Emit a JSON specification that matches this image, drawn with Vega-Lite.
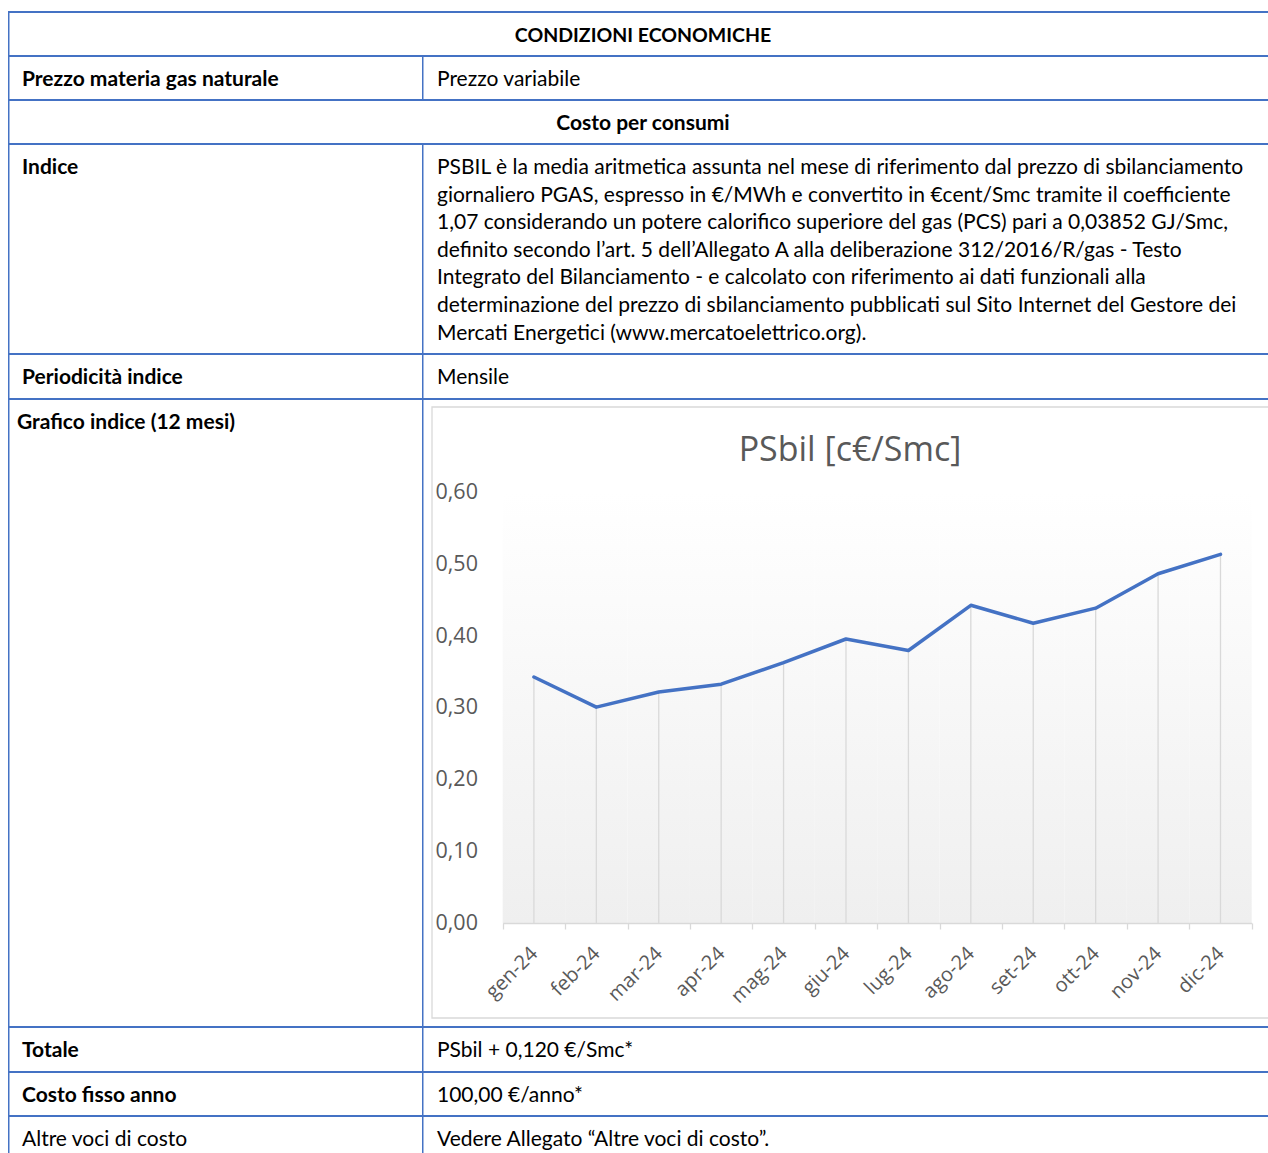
{
  "$schema": "https://vega.github.io/schema/vega-lite/v6.json",
  "padding": {"left": 8, "top": 11, "right": 0, "bottom": 0},
  "background": "white",
  "config": {
    "view": {"stroke": null},
    "concat": {"spacing": 0}
  },
  "spacing": 0,
  "bounds": "flush",
  "vconcat": [
    {
      "width": 1260, "height": 44,
      "data": {"values": [{"l": "CONDIZIONI ECONOMICHE"}]},
      "layer": [
        {"mark": {"type": "rect", "x": 0, "x2": 1260, "y": -1, "y2": 1, "fill": "#4472c4"}, "encoding": {}},
        {"mark": {"type": "rect", "x": 0, "x2": 1.5, "y": 0, "y2": 44, "fill": "#4472c4"}, "encoding": {}},
        {"mark": {"type": "text", "align": "center", "baseline": "alphabetic", "x": 635, "y": 30, "font": "Lato", "fontSize": 19.5, "fontWeight": "bold", "color": "#000000"}, "encoding": {"text": {"field": "l"}}}
      ]
    },
    {
      "width": 1260, "height": 44,
      "data": {"values": [{"l": "Prezzo materia gas naturale", "r": "Prezzo variabile"}]},
      "layer": [
        {"mark": {"type": "rect", "x": 0, "x2": 1260, "y": -1, "y2": 1, "fill": "#4472c4"}, "encoding": {}},
        {"mark": {"type": "rect", "x": 0, "x2": 1.5, "y": 0, "y2": 44, "fill": "#4472c4"}, "encoding": {}},
        {"mark": {"type": "rect", "x": 414, "x2": 415.5, "y": 0, "y2": 44, "fill": "#4472c4"}, "encoding": {}},
        {"mark": {"type": "text", "align": "left", "baseline": "alphabetic", "x": 14, "y": 30, "font": "Lato", "fontSize": 21, "fontWeight": "bold", "color": "#000000"}, "encoding": {"text": {"field": "l"}}},
        {"mark": {"type": "text", "align": "left", "baseline": "alphabetic", "x": 429, "y": 30, "font": "Lato", "fontSize": 21, "color": "#000000"}, "encoding": {"text": {"field": "r"}}}
      ]
    },
    {
      "width": 1260, "height": 44,
      "data": {"values": [{"l": "Costo per consumi"}]},
      "layer": [
        {"mark": {"type": "rect", "x": 0, "x2": 1260, "y": -1, "y2": 1, "fill": "#4472c4"}, "encoding": {}},
        {"mark": {"type": "rect", "x": 0, "x2": 1.5, "y": 0, "y2": 44, "fill": "#4472c4"}, "encoding": {}},
        {"mark": {"type": "text", "align": "center", "baseline": "alphabetic", "x": 635, "y": 30, "font": "Lato", "fontSize": 21, "fontWeight": "bold", "color": "#000000"}, "encoding": {"text": {"field": "l"}}}
      ]
    },
    {
      "width": 1260, "height": 210,
      "data": {"values": [{"l": "Indice", "r": [
        "PSBIL è la media aritmetica assunta nel mese di riferimento dal prezzo di sbilanciamento",
        "giornaliero PGAS, espresso in €/MWh e convertito in €cent/Smc tramite il coefficiente",
        "1,07 considerando un potere calorifico superiore del gas (PCS) pari a 0,03852 GJ/Smc,",
        "definito secondo l’art. 5 dell’Allegato A alla deliberazione 312/2016/R/gas - Testo",
        "Integrato del Bilanciamento - e calcolato con riferimento ai dati funzionali alla",
        "determinazione del prezzo di sbilanciamento pubblicati sul Sito Internet del Gestore dei",
        "Mercati Energetici (www.mercatoelettrico.org)."
      ]}]},
      "layer": [
        {"mark": {"type": "rect", "x": 0, "x2": 1260, "y": -1, "y2": 1, "fill": "#4472c4"}, "encoding": {}},
        {"mark": {"type": "rect", "x": 0, "x2": 1.5, "y": 0, "y2": 210, "fill": "#4472c4"}, "encoding": {}},
        {"mark": {"type": "rect", "x": 414, "x2": 415.5, "y": 0, "y2": 210, "fill": "#4472c4"}, "encoding": {}},
        {"mark": {"type": "text", "align": "left", "baseline": "alphabetic", "x": 14, "y": 30, "font": "Lato", "fontSize": 21, "fontWeight": "bold", "color": "#000000"}, "encoding": {"text": {"field": "l"}}},
        {"mark": {"type": "text", "align": "left", "baseline": "alphabetic", "x": 429, "y": 30, "lineHeight": 27.6, "font": "Lato", "fontSize": 21, "color": "#000000"}, "encoding": {"text": {"field": "r"}}}
      ]
    },
    {
      "width": 1260, "height": 45,
      "data": {"values": [{"l": "Periodicità indice", "r": "Mensile"}]},
      "layer": [
        {"mark": {"type": "rect", "x": 0, "x2": 1260, "y": -1, "y2": 1, "fill": "#4472c4"}, "encoding": {}},
        {"mark": {"type": "rect", "x": 0, "x2": 1.5, "y": 0, "y2": 45, "fill": "#4472c4"}, "encoding": {}},
        {"mark": {"type": "rect", "x": 414, "x2": 415.5, "y": 0, "y2": 45, "fill": "#4472c4"}, "encoding": {}},
        {"mark": {"type": "text", "align": "left", "baseline": "alphabetic", "x": 14, "y": 30, "font": "Lato", "fontSize": 21, "fontWeight": "bold", "color": "#000000"}, "encoding": {"text": {"field": "l"}}},
        {"mark": {"type": "text", "align": "left", "baseline": "alphabetic", "x": 429, "y": 30, "font": "Lato", "fontSize": 21, "color": "#000000"}, "encoding": {"text": {"field": "r"}}}
      ]
    },
    {
      "width": 1260, "height": 628,
      "layer": [
        {"data": {"values": [{}]}, "mark": {"type": "rect", "x": 0, "x2": 1260, "y": -1, "y2": 1, "fill": "#4472c4"}, "encoding": {}},
        {"data": {"values": [{}]}, "mark": {"type": "rect", "x": 0, "x2": 1.5, "y": 0, "y2": 628, "fill": "#4472c4"}, "encoding": {}},
        {"data": {"values": [{}]}, "mark": {"type": "rect", "x": 414, "x2": 415.5, "y": 0, "y2": 628, "fill": "#4472c4"}, "encoding": {}},
        {"data": {"values": [{"l": "Grafico indice (12 mesi)"}]}, "mark": {"type": "text", "align": "left", "baseline": "alphabetic", "x": 9, "y": 30, "font": "Lato", "fontSize": 21, "fontWeight": "bold", "color": "#000000"}, "encoding": {"text": {"field": "l"}}},
        {"data": {"values": [{}]}, "mark": {"type": "rect", "x": 424, "x2": 1290, "y": 8, "y2": 619, "fill": null, "stroke": "#d9d9d9", "strokeWidth": 1.3}, "encoding": {}},
        {"data": {"values": [{"t": "PSbil [c€/Smc]"}]}, "mark": {"type": "text", "align": "center", "baseline": "middle", "x": 842, "y": 52, "font": "Open Sans", "fontSize": 34, "color": "#595959"}, "encoding": {"text": {"field": "t"}}},
        {
          "data": {"values": [
            {"mese": "gen-24", "v": 0.343},
            {"mese": "feb-24", "v": 0.301},
            {"mese": "mar-24", "v": 0.322},
            {"mese": "apr-24", "v": 0.333},
            {"mese": "mag-24", "v": 0.363},
            {"mese": "giu-24", "v": 0.396},
            {"mese": "lug-24", "v": 0.380},
            {"mese": "ago-24", "v": 0.443},
            {"mese": "set-24", "v": 0.418},
            {"mese": "ott-24", "v": 0.439},
            {"mese": "nov-24", "v": 0.487},
            {"mese": "dic-24", "v": 0.514}
          ]},
          "encoding": {
            "x": {
              "field": "mese", "type": "nominal", "sort": null,
              "scale": {"type": "band", "domain": ["gen-24","feb-24","mar-24","apr-24","mag-24","giu-24","lug-24","ago-24","set-24","ott-24","nov-24","dic-24"], "range": [494.7, 1243.7], "paddingInner": 0, "paddingOuter": 0},
              "axis": {"orient": "bottom", "offset": -104, "zindex": 1, "title": null, "grid": false, "tickBand": "extent", "domainColor": "#d9d9d9", "domainWidth": 1.5, "tickColor": "#d9d9d9", "tickWidth": 1.3, "tickSize": 6, "labelAngle": -45, "labelAlign": "right", "labelBaseline": "top", "labelPadding": 14, "labelOffset": -7, "labelFont": "Open Sans", "labelFontSize": 20, "labelColor": "#595959", "labelOverlap": false}
            },
            "y": {
              "field": "v", "type": "quantitative",
              "scale": {"domain": [0, 0.6], "range": [524, 93.7], "nice": false, "zero": false},
              "axis": {"orient": "right", "offset": -833, "zindex": 1, "title": null, "grid": false, "domain": false, "ticks": false, "tickSize": 0, "labelPadding": 0, "labelAlign": "left", "labelBaseline": "middle", "values": [0, 0.1, 0.2, 0.3, 0.4, 0.5, 0.6], "labelExpr": "replace(format(datum.value, '.2f'), '.', ',')", "labelFont": "Open Sans", "labelFontSize": 21.5, "labelColor": "#595959", "labelOverlap": false}
            }
          },
          "layer": [
            {
              "mark": {"type": "bar", "fill": {"gradient": "linear", "x1": 0, "y1": 0, "x2": 0, "y2": 1, "stops": [{"offset": 0, "color": "#ffffff"}, {"offset": 1, "color": "#efefef"}]}},
              "encoding": {"y": {"datum": 0.6, "type": "quantitative"}, "y2": {"datum": 0}}
            },
            {
              "mark": {"type": "rule", "color": "#d9d9d9", "strokeWidth": 1.3},
              "encoding": {"y2": {"datum": 0}}
            },
            {
              "mark": {"type": "line", "color": "#4472c4", "strokeWidth": 3.5, "strokeJoin": "round", "strokeCap": "round"},
              "encoding": {}
            }
          ]
        }
      ]
    },
    {
      "width": 1260, "height": 45,
      "data": {"values": [{"l": "Totale", "r": "PSbil +  0,120 €/Smc*"}]},
      "layer": [
        {"mark": {"type": "rect", "x": 0, "x2": 1260, "y": -1, "y2": 1, "fill": "#4472c4"}, "encoding": {}},
        {"mark": {"type": "rect", "x": 0, "x2": 1.5, "y": 0, "y2": 45, "fill": "#4472c4"}, "encoding": {}},
        {"mark": {"type": "rect", "x": 414, "x2": 415.5, "y": 0, "y2": 45, "fill": "#4472c4"}, "encoding": {}},
        {"mark": {"type": "text", "align": "left", "baseline": "alphabetic", "x": 14, "y": 30, "font": "Lato", "fontSize": 21, "fontWeight": "bold", "color": "#000000"}, "encoding": {"text": {"field": "l"}}},
        {"mark": {"type": "text", "align": "left", "baseline": "alphabetic", "x": 429, "y": 30, "font": "Lato", "fontSize": 21, "color": "#000000"}, "encoding": {"text": {"field": "r"}}}
      ]
    },
    {
      "width": 1260, "height": 44,
      "data": {"values": [{"l": "Costo fisso anno", "r": "100,00 €/anno*"}]},
      "layer": [
        {"mark": {"type": "rect", "x": 0, "x2": 1260, "y": -1, "y2": 1, "fill": "#4472c4"}, "encoding": {}},
        {"mark": {"type": "rect", "x": 0, "x2": 1.5, "y": 0, "y2": 44, "fill": "#4472c4"}, "encoding": {}},
        {"mark": {"type": "rect", "x": 414, "x2": 415.5, "y": 0, "y2": 44, "fill": "#4472c4"}, "encoding": {}},
        {"mark": {"type": "text", "align": "left", "baseline": "alphabetic", "x": 14, "y": 30, "font": "Lato", "fontSize": 21, "fontWeight": "bold", "color": "#000000"}, "encoding": {"text": {"field": "l"}}},
        {"mark": {"type": "text", "align": "left", "baseline": "alphabetic", "x": 429, "y": 30, "font": "Lato", "fontSize": 21, "color": "#000000"}, "encoding": {"text": {"field": "r"}}}
      ]
    },
    {
      "width": 1260, "height": 38,
      "data": {"values": [{"l": "Altre voci di costo", "r": "Vedere Allegato “Altre voci di costo”."}]},
      "layer": [
        {"mark": {"type": "rect", "x": 0, "x2": 1260, "y": -1, "y2": 1, "fill": "#4472c4"}, "encoding": {}},
        {"mark": {"type": "rect", "x": 0, "x2": 1.5, "y": 0, "y2": 38, "fill": "#4472c4"}, "encoding": {}},
        {"mark": {"type": "rect", "x": 414, "x2": 415.5, "y": 0, "y2": 38, "fill": "#4472c4"}, "encoding": {}},
        {"mark": {"type": "text", "align": "left", "baseline": "alphabetic", "x": 14, "y": 30, "font": "Lato", "fontSize": 21, "color": "#000000"}, "encoding": {"text": {"field": "l"}}},
        {"mark": {"type": "text", "align": "left", "baseline": "alphabetic", "x": 429, "y": 30, "font": "Lato", "fontSize": 21, "color": "#000000"}, "encoding": {"text": {"field": "r"}}}
      ]
    }
  ]
}
